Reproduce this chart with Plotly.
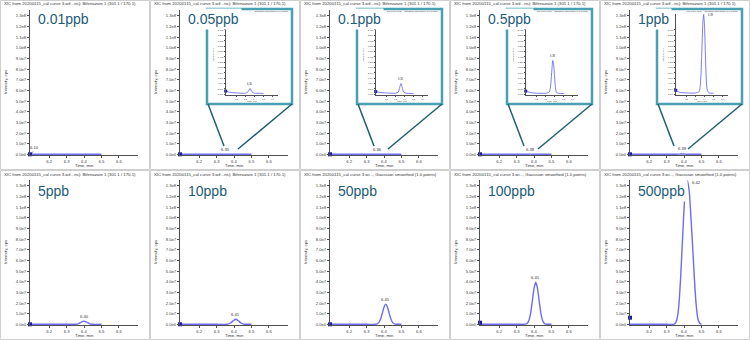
import plotly.graph_objects as go

W, H = 750, 340
PW, PH = 150, 170

# ---------------- data ----------------
samples = ["0.01ppb", "0.05ppb", "0.1ppb", "0.5ppb", "1ppb",
           "5ppb", "10ppb", "50ppb", "100ppb", "500ppb"]

title_raw = "XIC from 20200115_cal curve 3.wif...ns): Bifenazate 1 (301.1 / 170.1)"
title_smooth = "XIC from 20200115_cal curve 3.wi..., Gaussian smoothed (1.0 points)"
panel_titles = [title_raw] * 7 + [title_smooth] * 3

apex_labels = ["6.10", "6.35", "6.36", "6.38", "6.39",
               "6.40", "6.41", "6.41", "6.41", "6.42"]

time_001 = [6.09, 6.10, 6.11, 6.20, 6.30, 6.40, 6.50]
int_001 = [0, 3.0e3, 1.0e3, 0.8e3, 0.8e3, 0.8e3, 0.8e3]

time_005 = [6.08, 6.12, 6.16, 6.20, 6.25, 6.30, 6.33, 6.35, 6.37, 6.40, 6.45, 6.50]
int_005 = [1.2e4, 0.8e4, 0.6e4, 0.5e4, 0.4e4, 0.4e4, 1.0e4, 2.2e4, 1.0e4, 0.4e4, 0.4e4, 0.3e4]

time_01 = [6.08, 6.15, 6.20, 6.30, 6.33, 6.345, 6.36, 6.375, 6.39, 6.42, 6.50]
int_01 = [1.0e4, 0.6e4, 0.5e4, 0.4e4, 0.8e4, 2.5e4, 4.0e4, 2.5e4, 0.8e4, 0.4e4, 0.3e4]

time_05 = [6.08, 6.14, 6.20, 6.30, 6.34, 6.35, 6.36, 6.37, 6.38, 6.39, 6.40, 6.41, 6.42, 6.44, 6.50]
int_05 = [1.2e4, 0.6e4, 0.4e4, 0.4e4, 0.8e4, 1.8e4, 4.5e4, 9.0e4, 1.26e5, 1.1e5, 6.5e4, 2.5e4, 0.8e4, 0.4e4, 0.3e4]

time_1 = [6.08, 6.12, 6.20, 6.30, 6.34, 6.35, 6.36, 6.37, 6.38, 6.39, 6.40, 6.41, 6.42, 6.43, 6.45, 6.50]
int_1 = [1.5e4, 0.8e4, 0.5e4, 0.5e4, 1.0e4, 2.5e4, 7.0e4, 1.6e5, 2.6e5, 2.98e5, 2.5e5, 1.4e5, 5.0e4, 1.5e4, 0.5e4, 0.4e4]

time_5 = [6.09, 6.30, 6.35, 6.36, 6.37, 6.38, 6.39, 6.40, 6.41, 6.42, 6.43, 6.44, 6.45, 6.50]
int_5 = [0, 0, 0, 0.02e7, 0.07e7, 0.16e7, 0.26e7, 0.30e7, 0.26e7, 0.16e7, 0.07e7, 0.02e7, 0, 0]

time_10 = [6.09, 6.30, 6.36, 6.37, 6.38, 6.39, 6.40, 6.41, 6.42, 6.43, 6.44, 6.45, 6.46, 6.50]
int_10 = [0, 0, 0, 0.04e7, 0.12e7, 0.25e7, 0.40e7, 0.47e7, 0.40e7, 0.25e7, 0.12e7, 0.04e7, 0.01e7, 0]

time_50 = [6.09, 6.30, 6.35, 6.36, 6.37, 6.38, 6.39, 6.40, 6.41, 6.42, 6.43, 6.44, 6.45, 6.46, 6.47, 6.48, 6.50]
int_50 = [0, 0, 0, 0.04e7, 0.16e7, 0.47e7, 1.02e7, 1.61e7, 1.88e7, 1.61e7, 1.02e7, 0.47e7, 0.16e7, 0.04e7, 0.01e7, 0, 0]

time_100 = [6.09, 6.30, 6.35, 6.36, 6.37, 6.38, 6.39, 6.40, 6.41, 6.42, 6.43, 6.44, 6.45, 6.46, 6.47, 6.48, 6.50]
int_100 = [0, 0, 0.02e7, 0.08e7, 0.34e7, 0.99e7, 2.13e7, 3.38e7, 3.95e7, 3.38e7, 2.13e7, 0.99e7, 0.34e7, 0.08e7, 0.02e7, 0, 0]

time_500 = [6.09, 6.30, 6.34, 6.35, 6.36, 6.37, 6.38, 6.39, 6.40, 6.41, 6.42, 6.43, 6.44, 6.45, 6.46, 6.47, 6.48, 6.49, 6.50]
int_500 = [0, 0, 0, 0.01e8, 0.05e8, 0.17e8, 0.42e8, 0.75e8, 1.08e8, 1.30e8, 1.347e8, 1.25e8, 1.00e8, 0.72e8, 0.42e8, 0.18e8, 0.05e8, 0.01e8, 0]

times = [time_001, time_005, time_01, time_05, time_1, time_5, time_10, time_50, time_100, time_500]
intensities = [int_001, int_005, int_01, int_05, int_1, int_5, int_10, int_50, int_100, int_500]
start_marker_y = [0, 0, 0, 0, 0, 0, 0, 0, 0.15e7, 0.62e7]

x_ticks = [6.2, 6.3, 6.4, 6.5, 6.6]
x_tick_text = ["6.2", "6.3", "6.4", "6.5", "6.6"]
y_ticks = [0, 1e7, 2e7, 3e7, 4e7, 5e7, 6e7, 7e7, 8e7, 9e7, 1.0e8, 1.1e8, 1.2e8, 1.3e8]
y_tick_text = ["0.0e0", "1.0e7", "2.0e7", "3.0e7", "4.0e7", "5.0e7", "6.0e7", "7.0e7",
               "8.0e7", "9.0e7", "1.0e8", "1.1e8", "1.2e8", "1.3e8"]

inset_panels = [1, 2, 3, 4]
inset_y_ticks = [0, 2e4, 4e4, 6e4, 8e4, 1.0e5, 1.2e5, 1.4e5, 1.6e5, 1.8e5, 2.0e5, 2.2e5, 2.4e5]
inset_y_tick_text = ["0.0e0", "2.0e4", "4.0e4", "6.0e4", "8.0e4", "1.0e5", "1.2e5",
                     "1.4e5", "1.6e5", "1.8e5", "2.0e5", "2.2e5", "2.4e5"]
inset_legend = ["+      Gaussian smoothed (1.0 points)",
                "...cal curve 3.wi... Gaussian smoothed (1.0 points)",
                "...cal curve 3.wi... Gaussian smoothed (1.0 points)",
                "...cal curve 3.wi... Gaussian smoothed (1.0 points)"]

# ---------------- styling ----------------
FONT = "Liberation Sans, Arial, sans-serif"
TRACE_COLOR = "#6c6cf5"
MARKER_COLOR = "#1c1ca8"
AXIS_COLOR = "#505050"
TICK_FONT_COLOR = "#404040"
LABEL_COLOR = "#1d5b79"
INSET_BORDER = "#4aa0b3"
CONNECT_COLOR = "#1f5f6f"


def pxx(x):
    return x / W


def pxy(y):
    return 1 - y / H


fig = go.Figure()
layout = dict(width=W, height=H, margin=dict(l=0, r=0, t=0, b=0),
              paper_bgcolor="white", plot_bgcolor="white", showlegend=False,
              template="none", font=dict(family=FONT))
annotations = []
shapes = []

Y_MIN, Y_MAX = -0.6e6, 1.356e8
X_RANGE = [6.09, 6.71]


def ax_names(k):
    return ("xaxis" if k == 1 else f"xaxis{k}", "yaxis" if k == 1 else f"yaxis{k}",
            "x" if k == 1 else f"x{k}", "y" if k == 1 else f"y{k}")


for p in range(10):
    c, r = p % 5, p // 5
    ox, oy = c * PW, r * PH
    k = p + 1
    xa, ya, xr, yr = ax_names(k)
    layout[xa] = dict(domain=[pxx(ox + 30), pxx(ox + 138)], range=X_RANGE, anchor=yr,
                      tickvals=x_ticks, ticktext=x_tick_text, showline=True,
                      linecolor=AXIS_COLOR, linewidth=1, ticks="outside", ticklen=2,
                      tickcolor=AXIS_COLOR, tickwidth=0.8,
                      tickfont=dict(size=4.2, color=TICK_FONT_COLOR),
                      showgrid=False, zeroline=False, automargin=False, fixedrange=True)
    layout[ya] = dict(domain=[pxy(oy + 154.94), pxy(oy + 10)], range=[Y_MIN, Y_MAX], anchor=xr,
                      tickvals=y_ticks, ticktext=y_tick_text, showline=True,
                      linecolor=AXIS_COLOR, linewidth=1, ticks="outside", ticklen=2,
                      tickcolor=AXIS_COLOR, tickwidth=0.8,
                      tickfont=dict(size=4.2, color=TICK_FONT_COLOR),
                      showgrid=False, zeroline=False, automargin=False, fixedrange=True)

    t, v = times[p], intensities[p]
    fig.add_trace(go.Scatter(x=t, y=v, xaxis=xr, yaxis=yr, mode="lines",
                             line=dict(color=TRACE_COLOR, width=1.4, shape="spline", smoothing=0.6),
                             hoverinfo="skip"))
    fig.add_trace(go.Scatter(x=[X_RANGE[0]], y=[start_marker_y[p]], xaxis=xr, yaxis=yr,
                             mode="markers", cliponaxis=False,
                             marker=dict(symbol="square", size=4, color=MARKER_COLOR),
                             hoverinfo="skip"))

    # apex label
    imax = max(range(len(v)), key=lambda i: v[i])
    at, av = t[imax], v[imax]
    if p == 0:
        annotations.append(dict(x=at, y=av, xref=xr, yref=yr, text=apex_labels[p],
                                showarrow=True, ax=3, ay=-7, arrowhead=0, arrowwidth=0.5,
                                arrowcolor="#444", standoff=1,
                                font=dict(size=4.2, color="#333")))
    elif p == 9:
        annotations.append(dict(x=at, y=av, xref=xr, yref=yr, text=apex_labels[p],
                                showarrow=False, xanchor="left", yanchor="middle",
                                xshift=3, yshift=-2, font=dict(size=4.2, color="#333")))
    else:
        annotations.append(dict(x=at, y=av, xref=xr, yref=yr, text=apex_labels[p],
                                showarrow=False, xanchor="center", yanchor="bottom",
                                yshift=0.5, font=dict(size=4.2, color="#333")))

    # panel title
    annotations.append(dict(x=pxx(ox + 2), y=pxy(oy + 4), xref="paper", yref="paper",
                            text=panel_titles[p], showarrow=False, xanchor="left",
                            yanchor="middle", font=dict(size=4.3, color="#333")))
    # axis titles
    annotations.append(dict(x=pxx(ox + 5), y=pxy(oy + 82), xref="paper", yref="paper",
                            text="Intensity, cps", showarrow=False, textangle=-90,
                            xanchor="center", yanchor="middle", font=dict(size=4.2, color="#333")))
    annotations.append(dict(x=pxx(ox + 84), y=pxy(oy + 165), xref="paper", yref="paper",
                            text="Time, min", showarrow=False,
                            xanchor="center", yanchor="middle", font=dict(size=4.2, color="#333")))

    # panel border
    shapes.append(dict(type="rect", xref="paper", yref="paper",
                       x0=pxx(ox + 0.5), x1=pxx(ox + PW - 0.5), y0=pxy(oy + 0.5), y1=pxy(oy + PH - 0.5),
                       line=dict(color="#cfcfcf", width=1), layer="below"))

    # inset
    if p in inset_panels:
        j = inset_panels.index(p)
        ki = 11 + j
        ixa, iya, ixr, iyr = ax_names(ki)
        layout[ixa] = dict(domain=[pxx(ox + 75.7), pxx(ox + 128)], range=[6.08, 6.66], anchor=iyr,
                           tickvals=x_ticks, ticktext=x_tick_text, showline=True,
                           linecolor=AXIS_COLOR, linewidth=0.7, ticks="outside", ticklen=1,
                           tickcolor=AXIS_COLOR, tickwidth=0.5,
                           tickfont=dict(size=2.3, color=TICK_FONT_COLOR),
                           showgrid=False, zeroline=False, automargin=False, fixedrange=True)
        layout[iya] = dict(domain=[pxy(oy + 95.1), pxy(oy + 13.9)], range=[-0.3e4, 3.0e5], anchor=ixr,
                           tickvals=inset_y_ticks, ticktext=inset_y_tick_text, showline=True,
                           linecolor=AXIS_COLOR, linewidth=0.7, ticks="outside", ticklen=1,
                           tickcolor=AXIS_COLOR, tickwidth=0.5,
                           tickfont=dict(size=2.3, color=TICK_FONT_COLOR),
                           showgrid=False, zeroline=False, automargin=False, fixedrange=True)
        fig.add_trace(go.Scatter(x=t, y=v, xaxis=ixr, yaxis=iyr, mode="lines",
                                 line=dict(color=TRACE_COLOR, width=0.9, shape="spline", smoothing=0.6),
                                 hoverinfo="skip"))
        fig.add_trace(go.Scatter(x=[t[0]], y=[v[0]], xaxis=ixr, yaxis=iyr,
                                 mode="markers", cliponaxis=False,
                                 marker=dict(symbol="square", size=3, color=MARKER_COLOR),
                                 hoverinfo="skip"))
        if p == 4:
            annotations.append(dict(x=at, y=av, xref=ixr, yref=iyr, text=apex_labels[p],
                                    showarrow=False, xanchor="left", yanchor="middle",
                                    xshift=2, yshift=-1, font=dict(size=2.6, color="#333")))
        else:
            annotations.append(dict(x=at, y=av, xref=ixr, yref=iyr, text=apex_labels[p],
                                    showarrow=False, xanchor="center", yanchor="bottom",
                                    yshift=0.5, font=dict(size=2.6, color="#333")))
        annotations.append(dict(x=pxx(ox + 140), y=pxy(oy + 12), xref="paper", yref="paper",
                                text=inset_legend[j], showarrow=False, xanchor="right",
                                yanchor="middle", font=dict(size=2.4, color="#444")))
        annotations.append(dict(x=pxx(ox + 64), y=pxy(oy + 55), xref="paper", yref="paper",
                                text="Intensity, cps", showarrow=False, textangle=-90,
                                xanchor="center", yanchor="middle", font=dict(size=2.4, color="#444")))
        annotations.append(dict(x=pxx(ox + 102), y=pxy(oy + 101.3), xref="paper", yref="paper",
                                text="Time, min", showarrow=False,
                                xanchor="center", yanchor="middle", font=dict(size=2.3, color="#444")))
        shapes.append(dict(type="rect", xref="paper", yref="paper",
                           x0=pxx(ox + 57), x1=pxx(ox + 142), y0=pxy(oy + 9), y1=pxy(oy + 104),
                           line=dict(color=INSET_BORDER, width=2.5)))
        shapes.append(dict(type="line", xref="paper", yref="paper",
                           x0=pxx(ox + 58), y0=pxy(oy + 104), x1=pxx(ox + 74), y1=pxy(oy + 146),
                           line=dict(color=CONNECT_COLOR, width=1.5)))
        shapes.append(dict(type="line", xref="paper", yref="paper",
                           x0=pxx(ox + 142), y0=pxy(oy + 104), x1=pxx(ox + 88), y1=pxy(oy + 149),
                           line=dict(color=CONNECT_COLOR, width=1.5)))

    # big concentration label (white box covers inset corner)
    annotations.append(dict(x=pxx(ox + 35), y=pxy(oy + (19 if r == 0 else 21)),
                            xref="paper", yref="paper", text=samples[p], showarrow=False,
                            xanchor="left", yanchor="middle", bgcolor="white", borderpad=2,
                            font=dict(size=14, color=LABEL_COLOR, family=FONT)))

layout["annotations"] = annotations
layout["shapes"] = shapes
fig.update_layout(**layout)
fig.write_html("out.html")
